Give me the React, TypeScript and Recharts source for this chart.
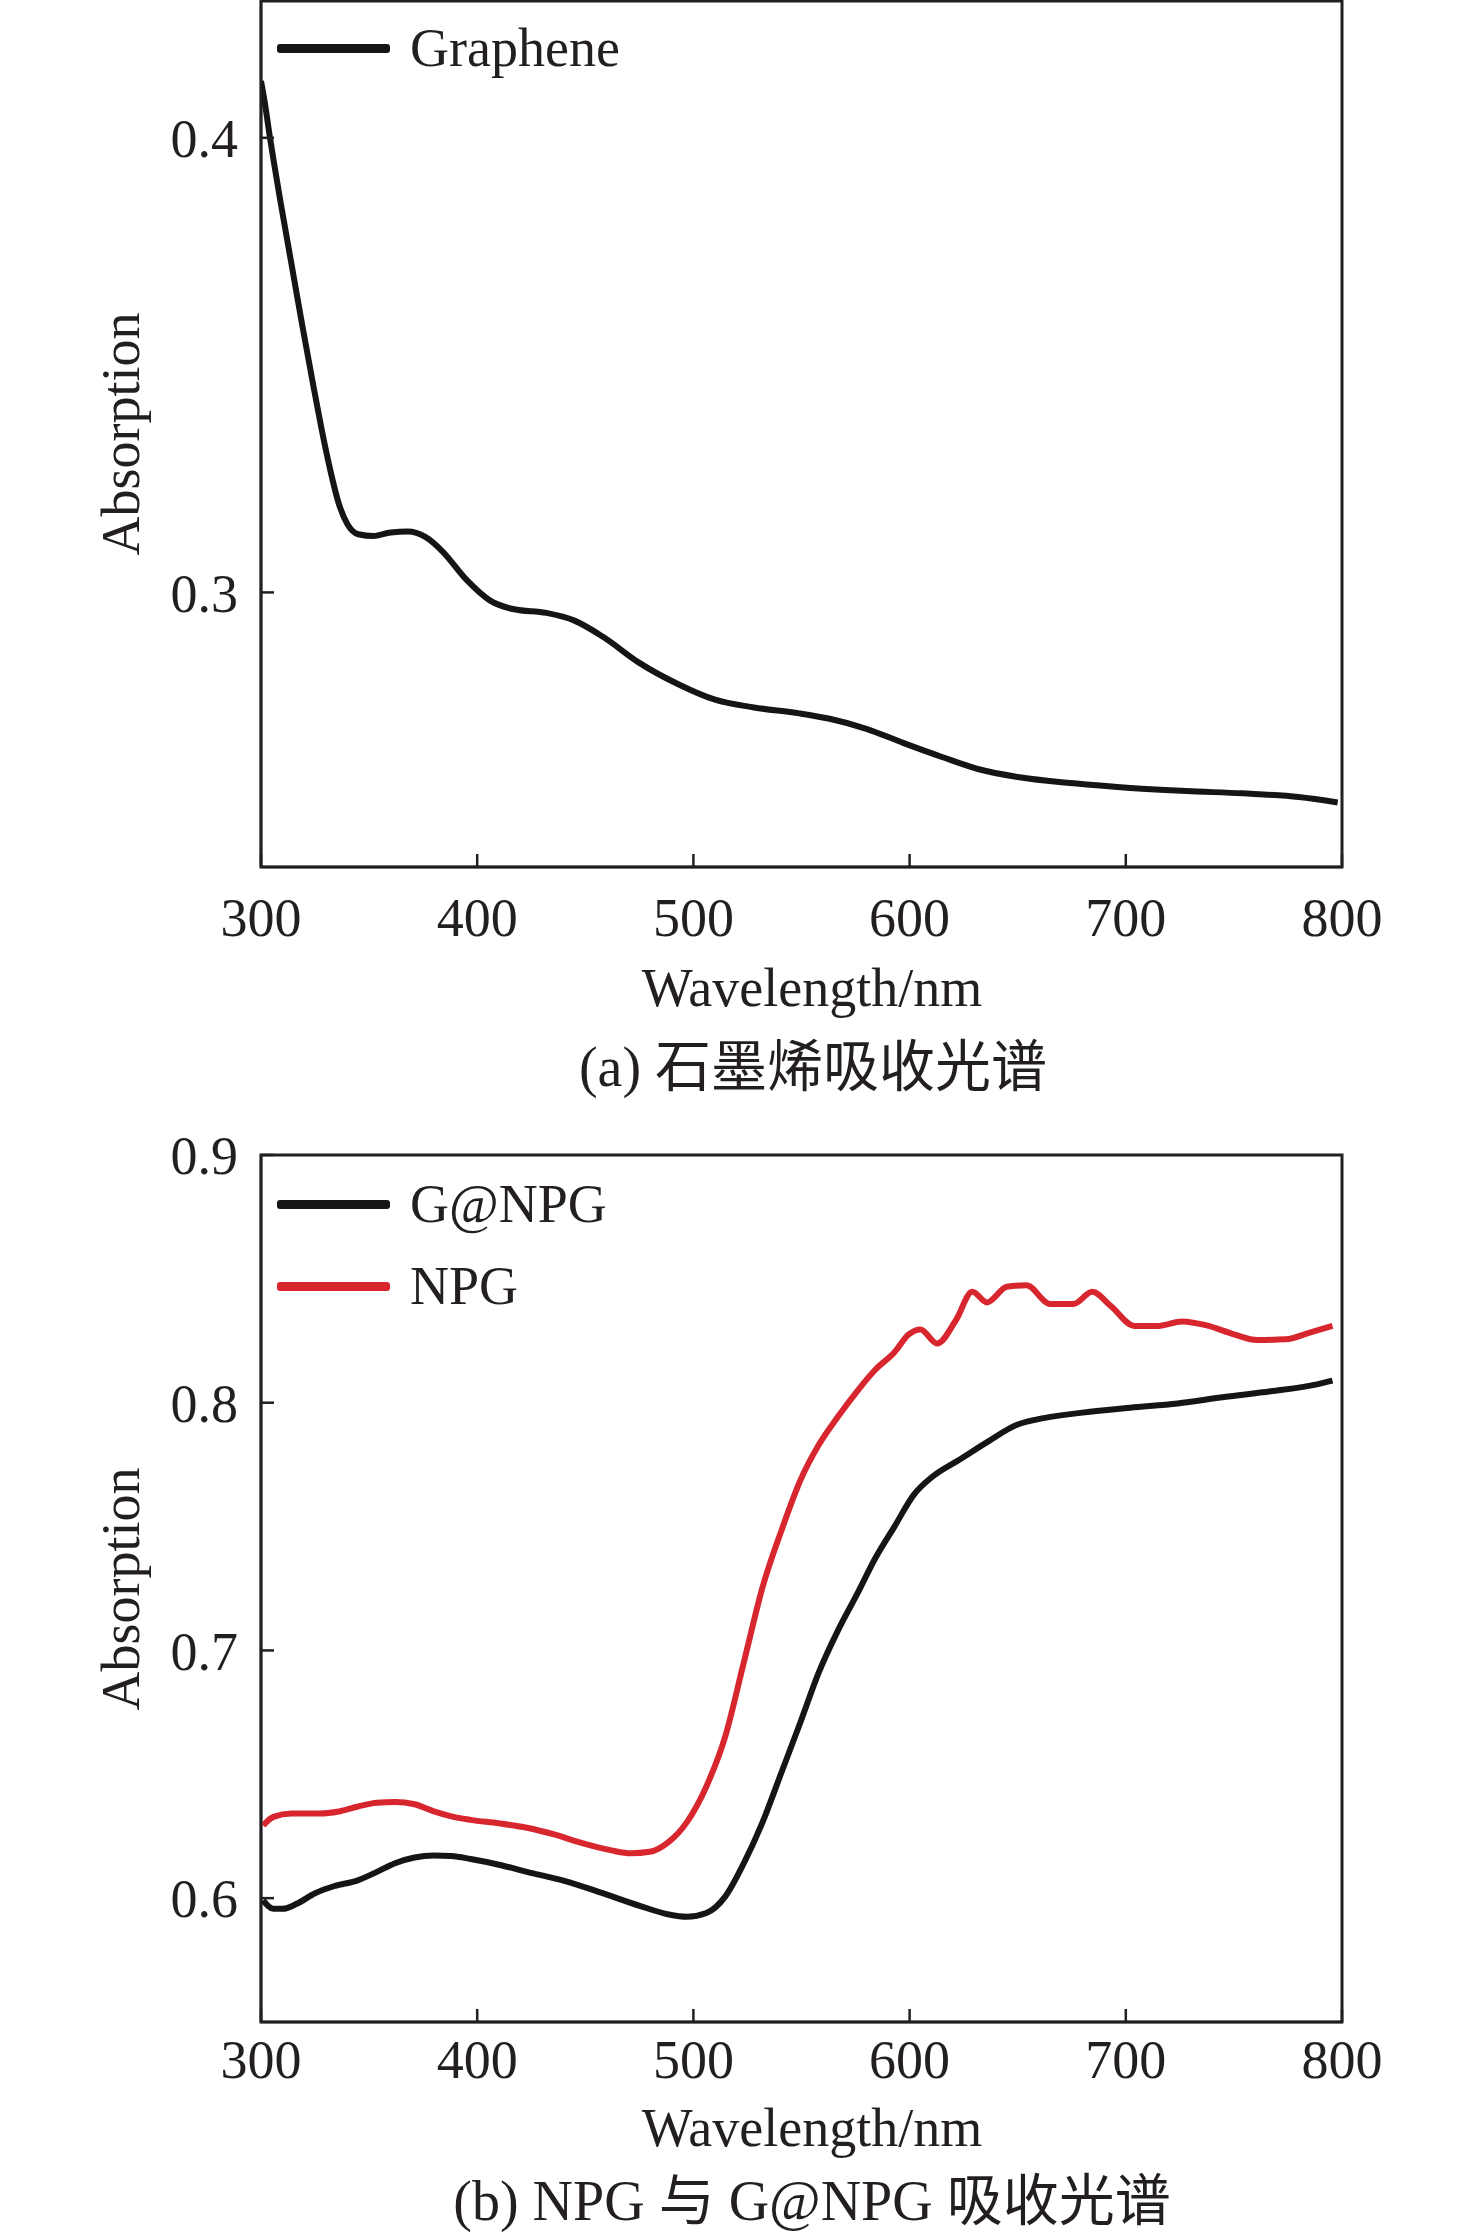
import { LineChart, Line, XAxis, YAxis, ReferenceArea } from 'recharts'

// wavelength (nm) / absorption pairs
const grapheneNm = [300, 302, 304, 306, 309, 314, 319, 324, 328, 332, 336, 340, 345, 352, 360, 368, 376, 384, 395, 406, 417, 432, 445, 458, 475, 493, 510, 528, 549, 563, 580, 597, 615, 632, 650, 676, 702, 728, 754, 780, 798]
const grapheneAbs = [0.4125, 0.407, 0.4005, 0.3945, 0.386, 0.3725, 0.359, 0.346, 0.336, 0.327, 0.3195, 0.315, 0.3128, 0.3124, 0.3132, 0.3134, 0.3122, 0.309, 0.3028, 0.2982, 0.2963, 0.2955, 0.2938, 0.2903, 0.2845, 0.2798, 0.2764, 0.2747, 0.2734, 0.2722, 0.27, 0.2669, 0.2638, 0.2611, 0.2594, 0.258, 0.257, 0.2563, 0.2558, 0.255, 0.2538]

const gnpgNm = [301, 305.7, 310, 316.5, 325, 334, 344.8, 353.6, 362, 371, 380, 388, 397, 410, 423, 440.7, 458, 475.5, 488.6, 497, 506, 514.7, 523, 532, 540.8, 549.5, 558, 567, 575.7, 584, 593, 602, 610.5, 623.6, 636.6, 649.7, 658, 680, 702, 724, 745.5, 767, 789, 795.6]
const gnpgAbs = [0.5991, 0.5957, 0.5957, 0.5977, 0.602, 0.6049, 0.6072, 0.6106, 0.6141, 0.6164, 0.6172, 0.617, 0.6158, 0.6135, 0.6106, 0.6069, 0.602, 0.5968, 0.5934, 0.5925, 0.594, 0.6006, 0.6135, 0.6307, 0.6509, 0.671, 0.6911, 0.7083, 0.7227, 0.737, 0.75, 0.7629, 0.7701, 0.7773, 0.7845, 0.7911, 0.7931, 0.796, 0.798, 0.7997, 0.8023, 0.8046, 0.8075, 0.8089]

const npgNm = [301, 305.7, 314, 327, 336, 345, 353.6, 362, 371, 380, 388, 397, 410, 423, 436, 449, 462, 471, 479.8, 488.6, 497, 506, 514.7, 523, 532, 540.8, 549.5, 558, 567, 575.7, 584, 593, 599.6, 605, 612.7, 621.4, 629, 635.8, 645, 654, 665, 675.8, 684.5, 693, 704, 715, 726, 737, 750, 760.8, 774, 784.7, 795.6]
const npgAbs = [0.6293, 0.6328, 0.6342, 0.6342, 0.635, 0.637, 0.6385, 0.6388, 0.6379, 0.635, 0.633, 0.6316, 0.6302, 0.6284, 0.6256, 0.6221, 0.6193, 0.6181, 0.6187, 0.6227, 0.6307, 0.6451, 0.6652, 0.694, 0.7256, 0.7486, 0.7687, 0.783, 0.7945, 0.8046, 0.8132, 0.8204, 0.8276, 0.8296, 0.8239, 0.8333, 0.8448, 0.8405, 0.8468, 0.8474, 0.8399, 0.8399, 0.8448, 0.8391, 0.831, 0.831, 0.8328, 0.8313, 0.8276, 0.8253, 0.8256, 0.8282, 0.831]

const xTicks = [300, 400, 500, 600, 700, 800]
const yTicksA = [0.3, 0.4]
const yTicksB = [0.6, 0.7, 0.8, 0.9]

const toRows = (xs: number[], ys: number[]) => xs.map((nm, i) => ({ nm, abs: ys[i] }))

const FONT = "'Liberation Serif', 'Times New Roman', 'Noto Sans CJK SC', serif"
const INK = '#231f20'
const BLACK = '#151515'
const RED = '#d8262e'

const centered = (cx: number, cy: number, size: number, extra: any = {}) => ({
  position: 'absolute' as const,
  left: cx - 500,
  top: cy - 40,
  width: 1000,
  height: 80,
  lineHeight: '80px',
  textAlign: 'center' as const,
  fontSize: size,
  fontFamily: FONT,
  color: INK,
  whiteSpace: 'nowrap' as const,
  ...extra,
})

const yTitle = (cx: number, cy: number) => ({
  position: 'absolute' as const,
  left: cx,
  top: cy,
  transform: 'translate(-50%, -50%) rotate(-90deg)',
  fontSize: 54,
  fontFamily: FONT,
  color: INK,
  whiteSpace: 'nowrap' as const,
  lineHeight: '60px',
})

const LegendRow = ({ top, color, label }: { top: number; color: string; label: string }) => (
  <div style={{ position: 'absolute', left: 277, top: top - 30, height: 60, display: 'flex', alignItems: 'center' }}>
    <div style={{ width: 113, height: 9, background: color, borderRadius: 3 }} />
    <span style={{ marginLeft: 20, fontSize: 54, fontFamily: FONT, color: INK, lineHeight: '60px' }}>{label}</span>
  </div>
)

const tickStyle = { fill: INK, fontSize: 54, fontFamily: FONT }

const PanelA = () => (
  <div style={{ position: 'absolute', left: 0, top: 0 }}>
    <LineChart width={1476} height={1000} margin={{ top: 1, right: 134, left: 161, bottom: 73 }}>
      <XAxis
        type='number'
        dataKey='nm'
        domain={[300, 800]}
        ticks={xTicks}
        interval={0}
        height={60}
        tickSize={-13}
        tickMargin={44}
        tick={tickStyle}
        axisLine={{ stroke: INK, strokeWidth: 2.5 }}
        tickLine={{ stroke: INK, strokeWidth: 2.5 }}
        allowDataOverflow
      />
      <YAxis
        type='number'
        domain={[0.2396, 0.4301]}
        ticks={yTicksA}
        interval={0}
        width={100}
        tickSize={-13}
        tickMargin={36}
        tick={tickStyle}
        tickFormatter={(v: number) => v.toFixed(1)}
        axisLine={{ stroke: INK, strokeWidth: 2.5 }}
        tickLine={{ stroke: INK, strokeWidth: 2.5 }}
        allowDataOverflow
      />
      <ReferenceArea x1={300} x2={800} y1={0.2396} y2={0.4301} fill='none' stroke={INK} strokeWidth={3} ifOverflow='visible' />
      <Line
        data={toRows(grapheneNm, grapheneAbs)}
        dataKey='abs'
        type='monotone'
        stroke={BLACK}
        strokeWidth={6}
        dot={false}
        isAnimationActive={false}
      />
    </LineChart>
    <LegendRow top={48} color={BLACK} label='Graphene' />
    <div style={yTitle(121, 434)}>Absorption</div>
    <div style={centered(812, 988, 54)}>Wavelength/nm</div>
    <div style={centered(813, 1067, 56)}>(a) 石墨烯吸收光谱</div>
  </div>
)

const PanelB = () => (
  <div style={{ position: 'absolute', left: 0, top: 1100 }}>
    <LineChart width={1476} height={1000} margin={{ top: 55, right: 134, left: 161, bottom: 18 }}>
      <XAxis
        type='number'
        dataKey='nm'
        domain={[300, 800]}
        ticks={xTicks}
        interval={0}
        height={60}
        tickSize={-13}
        tickMargin={31}
        tick={tickStyle}
        axisLine={{ stroke: INK, strokeWidth: 2.5 }}
        tickLine={{ stroke: INK, strokeWidth: 2.5 }}
        allowDataOverflow
      />
      <YAxis
        type='number'
        domain={[0.55, 0.9]}
        ticks={yTicksB}
        interval={0}
        width={100}
        tickSize={-13}
        tickMargin={36}
        tick={tickStyle}
        tickFormatter={(v: number) => v.toFixed(1)}
        axisLine={{ stroke: INK, strokeWidth: 2.5 }}
        tickLine={{ stroke: INK, strokeWidth: 2.5 }}
        allowDataOverflow
      />
      <ReferenceArea x1={300} x2={800} y1={0.55} y2={0.9} fill='none' stroke={INK} strokeWidth={3} ifOverflow='visible' />
      <Line
        data={toRows(npgNm, npgAbs)}
        dataKey='abs'
        type='monotone'
        stroke={RED}
        strokeWidth={6}
        dot={false}
        isAnimationActive={false}
      />
      <Line
        data={toRows(gnpgNm, gnpgAbs)}
        dataKey='abs'
        type='monotone'
        stroke={BLACK}
        strokeWidth={6}
        dot={false}
        isAnimationActive={false}
      />
    </LineChart>
    <LegendRow top={104} color={BLACK} label='G@NPG' />
    <LegendRow top={186} color={RED} label='NPG' />
    <div style={yTitle(121, 489)}>Absorption</div>
    <div style={centered(812, 1028, 54)}>Wavelength/nm</div>
    <div style={centered(812, 1101, 56)}>(b) NPG 与 G@NPG 吸收光谱</div>
  </div>
)

const App = () => {
  return (
    <div style={{ position: 'absolute', left: 0, top: 0, width: 1476, height: 2234, background: '#fff', overflow: 'hidden' }}>
      <PanelA />
      <PanelB />
    </div>
  )
}

export default App
